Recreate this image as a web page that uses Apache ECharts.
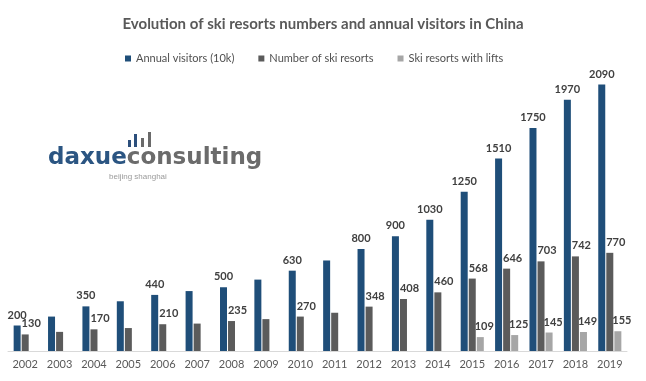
<!DOCTYPE html>
<html>
<head>
<meta charset="utf-8">
<script src="https://cdn.jsdelivr.net/npm/echarts@6/dist/echarts.min.js"></script>
<style>
html,body{margin:0;padding:0;background:#fff;}
#chart{width:646px;height:381px;}
</style>
</head>
<body>
<div id="chart"></div>
<script>
const years = ['2002','2003','2004','2005','2006','2007','2008','2009','2010','2011','2012','2013','2014','2015','2016','2017','2018','2019'];
const annualVisitors = [200,270,350,390,440,470,500,560,630,710,800,900,1030,1250,1510,1750,1970,2090];
const skiResorts = [130,150,170,180,210,215,235,250,270,300,348,408,460,568,646,703,742,770];
const resortsWithLifts = [null,null,null,null,null,null,null,null,null,null,null,null,null,109,125,145,149,155];
const unlabeledYears = ['2003','2005','2007','2009','2011'];
const seriesNames = ['Annual visitors (10k)','Number of ski resorts','Ski resorts with lifts'];

function withLabels(values){
  return values.map((v,i)=> unlabeledYears.indexOf(years[i])>=0 ? {value:v,label:{show:false}} : v);
}

const chart = echarts.init(document.getElementById('chart'), null, {renderer:'canvas'});
const labelBase = {show:true, position:'top', distance:5, fontFamily:'Lato', fontWeight:'bold', fontSize:11, color:'#404040'};

chart.setOption({
  backgroundColor:'#ffffff',
  animation:false,
  title:{
    text:'Evolution of ski resorts numbers and annual visitors in China',
    left:'center', top:12,
    textStyle:{fontFamily:'Lato', fontWeight:'bold', fontSize:15, color:'#595959'}
  },
  legend:{
    left:120, top:48,
    itemWidth:6, itemHeight:6, itemGap:24,
    icon:'rect',
    textStyle:{fontFamily:'Lato', fontSize:11, color:'#505050'},
    data:seriesNames
  },
  grid:{left:8, right:19, top:45, bottom:30, containLabel:false},
  xAxis:{
    type:'category', data:years,
    axisLine:{lineStyle:{color:'#d9d9d9', width:1}},
    axisTick:{show:false},
    axisLabel:{fontFamily:'Lato', fontSize:11, color:'#595959', margin:8}
  },
  yAxis:{type:'value', min:0, max:2400, show:false, splitLine:{show:false}},
  graphic:[
    {type:'rect', shape:{x:128,y:140,width:3,height:7}, style:{fill:'#2c4f7c'}},
    {type:'rect', shape:{x:134,y:134,width:3,height:13}, style:{fill:'#2c4f7c'}},
    {type:'rect', shape:{x:141,y:138,width:3,height:9}, style:{fill:'#6a6a6a'}},
    {type:'rect', shape:{x:148,y:132,width:3,height:15}, style:{fill:'#6a6a6a'}},
    {type:'text', left:48, top:147, style:{
      text:'{a|daxue}{b|consulting}',
      rich:{
        a:{fontFamily:'DejaVu Sans', fontWeight:'bold', fontSize:23, fill:'#2b5582'},
        b:{fontFamily:'DejaVu Sans', fontWeight:'bold', fontSize:23, fill:'#6b6b6b'}
      }
    }},
    {type:'text', left:109, top:173, style:{text:'beijing shanghai', fontFamily:'Liberation Sans', fontSize:8, fill:'#9a9a9a'}}
  ],
  series:[
    {name:seriesNames[0], type:'bar', data:withLabels(annualVisitors), barWidth:7, barGap:'15%',
     itemStyle:{color:'#1f4e79'}, label:Object.assign({}, labelBase)},
    {name:seriesNames[1], type:'bar', data:withLabels(skiResorts), barWidth:7, barGap:'15%',
     itemStyle:{color:'#5b5b5b'}, label:Object.assign({}, labelBase, {offset:[6,0]})},
    {name:seriesNames[2], type:'bar', data:resortsWithLifts, barWidth:7, barGap:'15%',
     itemStyle:{color:'#a6a6a6'}, label:Object.assign({}, labelBase, {offset:[4,0]})}
  ]
});
</script>
</body>
</html>
